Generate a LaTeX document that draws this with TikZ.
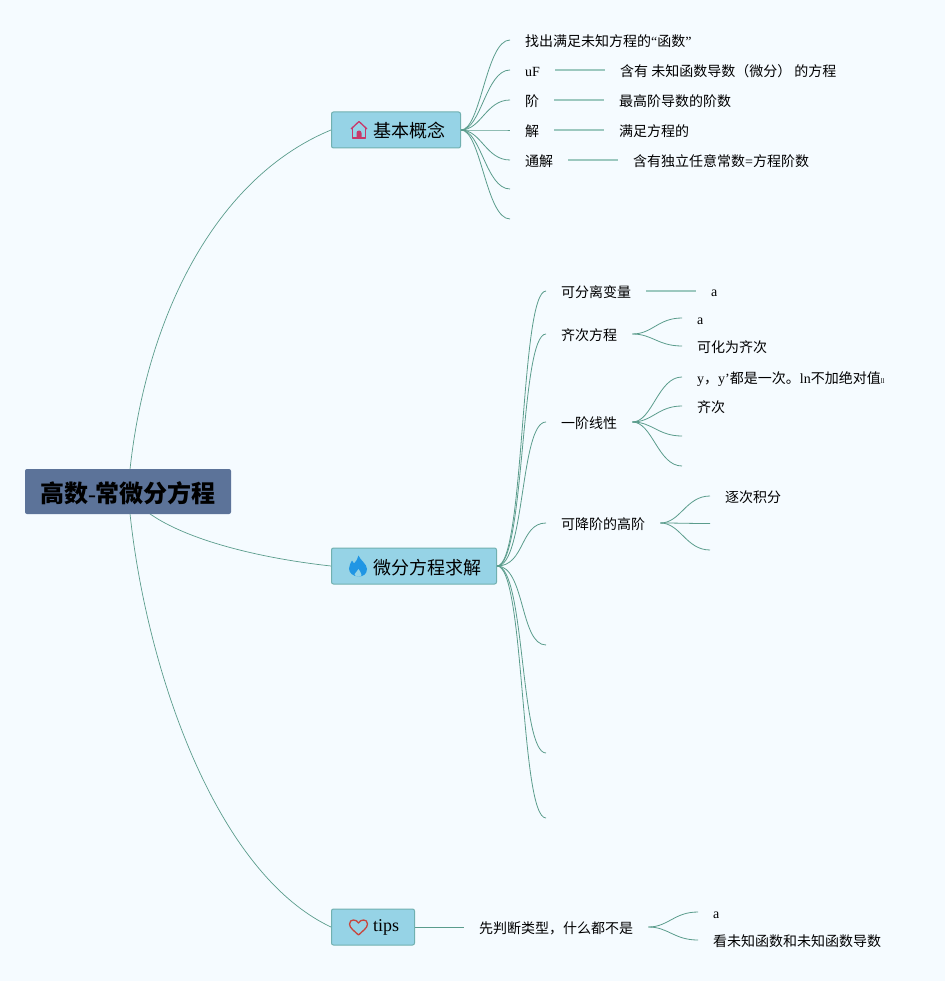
\documentclass[tikz,border=0pt]{standalone}
\usepackage{fontspec}
\setmainfont{Liberation Serif}
\newfontfamily\cjkfam{Noto Sans CJK SC}
\newcommand{\C}[1]{{\cjkfam #1}}
\usetikzlibrary{calc}
\definecolor{bgc}{HTML}{F5FBFF}
\definecolor{rootc}{HTML}{5C7399}
\definecolor{mainc}{HTML}{96D3E6}
\definecolor{mainb}{HTML}{70B0B0}
\definecolor{linec}{HTML}{5A9C8C}
\definecolor{linel}{HTML}{9CC8BF}
\definecolor{housec}{HTML}{C8386A}
\definecolor{flamec}{HTML}{2096E4}
\definecolor{heartc}{HTML}{C8453C}
\pgfdeclarelayer{backdrop}\pgfdeclarelayer{links}
\pgfsetlayers{backdrop,links,main}
\tikzset{
  rootnode/.style={fill=rootc,rounded corners=2pt,minimum width=206pt,minimum height=45pt,inner sep=0pt,text height=21pt,text depth=0pt,font=\fontsize{24}{28}\selectfont\bfseries},
  mainnode/.style={draw=mainb,line width=1pt,fill=mainc,rounded corners=2pt,minimum height=36pt,inner xsep=15.5pt,inner ysep=0pt,text height=16pt,text depth=0pt,anchor=west,font=\fontsize{18}{22}\selectfont},
  leaf/.style={anchor=west,inner xsep=15pt,inner ysep=0pt,text height=14pt,text depth=1pt,font=\fontsize{14}{16}\selectfont},
  curve/.style={draw=linec,line width=0.8pt},
  straight/.style={draw=linel,line width=1.3pt},
  big/.style={draw=linec,line width=0.7pt},
}
\newcommand{\fan}[2]{\draw[curve] (#1) .. controls +(20,0) and +(-24,0) .. (#2);}
\begin{document}
\begin{tikzpicture}[x=1pt,y=-1pt]
\useasboundingbox (0,0) rectangle (945,981);
\begin{pgfonlayer}{backdrop}
\fill[bgc] (0,0) rectangle (945,981);
\end{pgfonlayer}
% root and main nodes
\node[rootnode] (root) at (128,491.5) {\C{高数}{\mdseries-}\C{常微分方程}};
\node[mainnode] (jb) at (331,130) {\hspace*{26pt}\C{基本概念}};
\node[mainnode] (qj) at (331,566) {\hspace*{26pt}\C{微分方程求解}};
\node[mainnode] (tp) at (331,927) {\hspace*{26pt}\raisebox{3.5pt}{tips}};
% icons
\begin{scope}[shift={($(jb.west)+(28,0)$)}]
\draw[draw=housec,line width=1.3pt,line join=round] (-8,-1) -- (0,-8.5) -- (8,-1);
\draw[draw=housec,line width=1.3pt,line join=round] (-6.5,-2) -- (-6.5,8) -- (6.5,8) -- (6.5,-2);
\fill[housec] (-2.5,8) -- (-2.5,3) arc[start angle=180,end angle=0,radius=2.5pt] -- (2.5,8) -- cycle;
\end{scope}
\begin{scope}[shift={($(qj.west)+(27,0)$)}]
\fill[flamec] (0.5,-10.5) .. controls (2,-6) and (9,-2) .. (9,3) .. controls (9,8) and (5,10.5) .. (1,10.5) .. controls (-5,10.5) and (-9,7) .. (-9,2.5) .. controls (-9,-1) and (-7,-3) .. (-6,-5.5) .. controls (-5,-4.5) and (-4.5,-3.5) .. (-4,-2.5) .. controls (-2,-4.5) and (0,-7.5) .. (0.5,-10.5) -- cycle;
\fill[mainc] (0.5,3) .. controls (1,5.5) and (4,6.5) .. (3.5,9) .. controls (3.2,10.3) and (1.5,10.6) .. (0.5,10.6) .. controls (-1.5,10.6) and (-3.5,9.8) .. (-3.5,8.3) .. controls (-3.5,6.5) and (0,5.5) .. (0.5,3) -- cycle;
\end{scope}
\begin{scope}[shift={($(tp.west)+(27.5,0)$)}]
\draw[draw=heartc,line width=1.3pt,line join=round] (0,8) .. controls (-4,4) and (-9,1) .. (-9,-3) .. controls (-9,-6) and (-7,-7) .. (-5,-7) .. controls (-3,-7) and (-1,-6) .. (0,-4) .. controls (1,-6) and (3,-7) .. (5,-7) .. controls (7,-7) and (9,-6) .. (9,-3) .. controls (9,1) and (4,4) .. (0,8) -- cycle;
\end{scope}
% group 1
\node[leaf] (a1) at (510,40) {\C{找出满足未知方程的}“\C{函数}”};
\node[leaf] (a2) at (510,70) {uF};
\node[leaf] (a2b) at (605,70) {\C{含有 未知函数导数（微分） 的方程}};
\node[leaf] (a3) at (510,100) {\C{阶}};
\node[leaf] (a3b) at (604,100) {\C{最高阶导数的阶数}};
\node[leaf] (a4) at (510,130) {\C{解}};
\node[leaf] (a4b) at (604,130) {\C{满足方程的}};
\node[leaf] (a5) at (510,160) {\C{通解}};
\node[leaf] (a5b) at (618,160) {\C{含有独立任意常数}=\C{方程阶数}};
\coordinate (a6) at (510,189);
\coordinate (a7) at (510,219);
% group 2
\node[leaf] (b1) at (546,291) {\C{可分离变量}};
\node[leaf] (b1a) at (696,290) {a};
\node[leaf] (b2) at (546,334) {\C{齐次方程}};
\node[leaf] (b2a) at (682,318) {a};
\node[leaf] (b2b) at (682,346) {\C{可化为齐次}};
\node[leaf] (b3) at (546,422) {\C{一阶线性}};
\node[leaf] (b3a) at (682,377) {y\C{，}y’\C{都是一次。}ln\C{不加绝对值}{\fontsize{7}{7}\selectfont ll}};
\node[leaf] (b3b) at (682,406) {\C{齐次}};
\coordinate (b3c) at (682,436);
\coordinate (b3d) at (682,466);
\node[leaf] (b4) at (546,523) {\C{可降阶的高阶}};
\node[leaf] (b4a) at (710,496) {\C{逐次积分}};
\coordinate (b4b) at (710,523.5);
\coordinate (b4c) at (710,550);
\coordinate (b5) at (546,645);
\coordinate (b6) at (546,753);
\coordinate (b7) at (546,818);
% group 3
\node[leaf] (c1) at (464,927) {\C{先判断类型，什么都不是}};
\node[leaf] (c1a) at (698,912) {a};
\node[leaf] (c1b) at (698,940) {\C{看未知函数和未知函数导数}};
% connectors
\begin{pgfonlayer}{links}
\draw[big] (root.center) .. controls (140,330) and (210,180) .. (jb.west);
\draw[big] (root.center) .. controls (150,530) and (240,556) .. (qj.west);
\draw[big] (root.center) .. controls (140,650) and (210,870) .. (tp.west);
\foreach \t in {a1.west,a2.west,a3.west,a4.west,a5.west,a6,a7} {\fan{jb.east}{\t}}
\foreach \t in {b1.west,b2.west,b3.west,b4.west,b5,b6,b7} {\draw[curve] (qj.east) .. controls +(28,0) and +(-26,0) .. (\t);}
\draw[straight] (a2.east) -- (a2b.west);
\draw[straight] (a3.east) -- (a3b.west);
\draw[straight] (a4.east) -- (a4b.west);
\draw[straight] (a5.east) -- (a5b.west);
\draw[straight] (b1.east) -- (b1a.west |- b1.east);
\foreach \t in {b2a.west,b2b.west} {\fan{b2.east}{\t}}
\foreach \t in {b3a.west,b3b.west,b3c,b3d} {\fan{b3.east}{\t}}
\foreach \t in {b4a.west,b4b,b4c} {\fan{b4.east}{\t}}
\draw[curve] (tp.east) -- (c1.west);
\foreach \t in {c1a.west,c1b.west} {\fan{c1.east}{\t}}
\end{pgfonlayer}
\end{tikzpicture}
\end{document}
